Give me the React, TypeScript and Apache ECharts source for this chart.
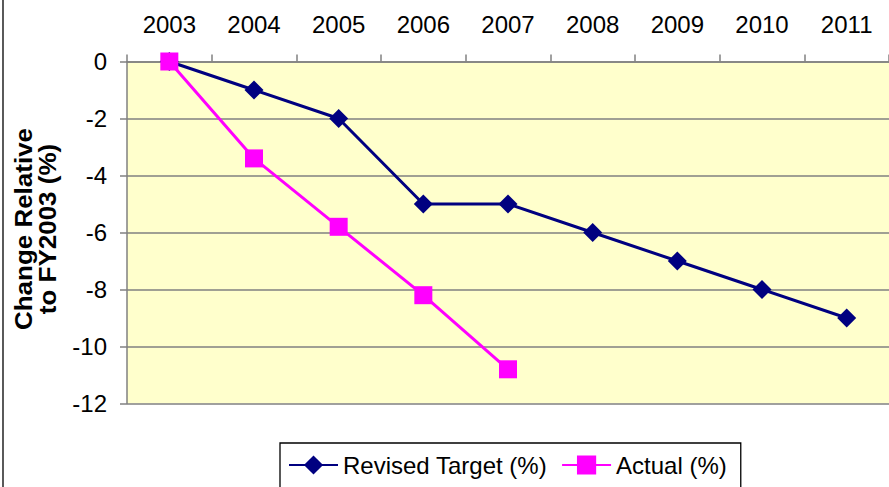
import React, { useEffect, useRef } from "react";
import * as echarts from "echarts";

const categories = ["2003", "2004", "2005", "2006", "2007", "2008", "2009", "2010", "2011"];
const revisedTarget = [0, -1, -2, -5, -5, -6, -7, -8, -9];
const actual = [0, -3.4, -5.8, -8.2, -10.8];
const yTitle = "Change Relative\nto FY2003 (%)";

const FONT = "'Liberation Sans', Arial, sans-serif";

export default function App() {
  const ref = useRef<HTMLDivElement>(null);
  useEffect(() => {
    if (!ref.current) return;
    const chart = echarts.init(ref.current, undefined, { renderer: "svg" });
    chart.setOption({
      animation: false,
      backgroundColor: "#ffffff",
      textStyle: { fontFamily: FONT },
      grid: {
        left: 127,
        top: 61.5,
        width: 765.5,
        height: 342,
        show: true,
        backgroundColor: "#FFFFCC",
        borderWidth: 0,
      },
      xAxis: {
        type: "category",
        data: categories,
        position: "top",
        boundaryGap: true,
        axisLine: { show: true, lineStyle: { color: "#808080", width: 1.5 } },
        axisTick: { show: true, inside: false, length: 7, lineStyle: { color: "#808080", width: 1.5 } },
        axisLabel: { color: "#000", fontSize: 24, fontFamily: FONT, margin: 25 },
        splitLine: { show: false },
      },
      yAxis: {
        type: "value",
        min: -12,
        max: 0,
        interval: 2,
        axisLine: { show: true, lineStyle: { color: "#808080", width: 1.5 } },
        axisTick: { show: true, inside: false, length: 7, lineStyle: { color: "#808080", width: 1.5 } },
        axisLabel: { color: "#000", fontSize: 24, fontFamily: FONT, margin: 20 },
        splitLine: { show: true, lineStyle: { color: "#808080", width: 1.5 } },
      },
      legend: {
        left: 280,
        top: 443,
        orient: "horizontal",
        itemWidth: 49,
        itemHeight: 24,
        itemGap: 14,
        padding: [10, 14, 30, 8],
        borderColor: "#000",
        borderWidth: 1.3,
        backgroundColor: "#ffffff",
        textStyle: { color: "#000", fontSize: 24, fontFamily: FONT },
        data: ["Revised Target (%)", "Actual (%)"],
      },
      graphic: [
        {
          type: "line",
          shape: { x1: 3, y1: -5, x2: 3, y2: 500 },
          style: { stroke: "#000", lineWidth: 1.3 },
        },
        {
          type: "text",
          x: 36.5,
          y: 229,
          rotation: Math.PI / 2,
          scaleX: 1.13,
          style: {
            text: yTitle,
            font: `bold 23px ${FONT}`,
            fill: "#000",
            textAlign: "center",
            textVerticalAlign: "middle",
            lineHeight: 24,
          },
        },
      ],
      series: [
        {
          name: "Revised Target (%)",
          type: "line",
          data: revisedTarget,
          symbol: "diamond",
          symbolSize: 19,
          itemStyle: { color: "#000080" },
          lineStyle: { color: "#000080", width: 3 },
        },
        {
          name: "Actual (%)",
          type: "line",
          data: actual,
          symbol: "rect",
          symbolSize: 18,
          itemStyle: { color: "#FF00FF" },
          lineStyle: { color: "#FF00FF", width: 3 },
        },
      ],
    });
    return () => chart.dispose();
  }, []);
  return (
    <div
      ref={ref}
      style={{ position: "absolute", left: 0, top: 0, width: 889, height: 487 }}
    />
  );
}
